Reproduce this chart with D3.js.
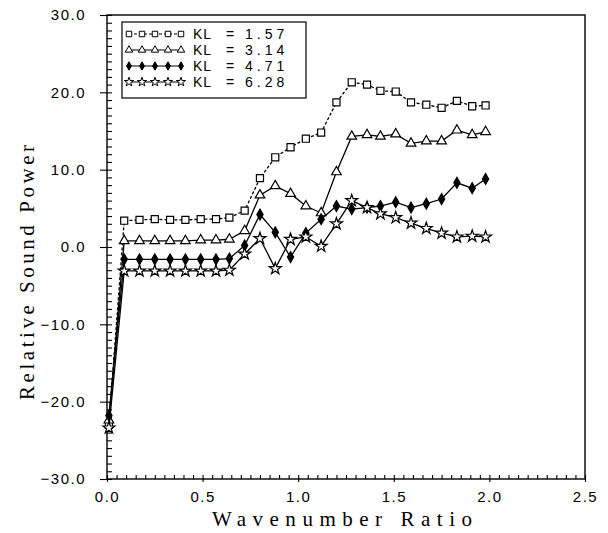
<!DOCTYPE html>
<html>
<head>
<meta charset="utf-8">
<script src="https://cdn.jsdelivr.net/npm/d3@7"></script>
<style>
  body { margin: 0; background: #fff; }
  text { fill: #000; }
</style>
</head>
<body>
<div id="vis"></div>
<script>
// wavenumber ratio (x) shared by all four curves
var ratio = [0.01, 0.09, 0.17, 0.25, 0.33, 0.41, 0.49, 0.57, 0.64, 0.72, 0.80, 0.88, 0.96,
             1.04, 1.12, 1.20, 1.28, 1.36, 1.43, 1.51, 1.59, 1.67, 1.75, 1.83, 1.91, 1.98];

var kl157 = [-23.0, 3.4, 3.5, 3.6, 3.5, 3.5, 3.6, 3.6, 3.8, 4.7, 8.9, 11.6, 12.9,
             14.0, 14.8, 18.7, 21.3, 21.0, 20.2, 20.1, 18.7, 18.4, 18.0, 18.9, 18.2, 18.3];
var kl314 = [-22.4, 0.8, 0.8, 0.8, 0.8, 0.8, 0.9, 0.9, 1.0, 2.1, 6.7, 7.9, 6.9,
             5.3, 4.4, 9.7, 14.3, 14.5, 14.3, 14.6, 13.4, 13.7, 13.7, 15.1, 14.5, 14.9];
var kl471 = [-21.8, -1.6, -1.6, -1.6, -1.6, -1.6, -1.6, -1.6, -1.5, 0.2, 4.2, 1.9, -1.3,
             1.8, 3.6, 5.3, 4.9, 5.1, 5.3, 5.8, 5.1, 5.6, 6.2, 8.3, 7.6, 8.8];
var kl628 = [-23.4, -3.1, -3.1, -3.1, -3.1, -3.1, -3.1, -3.1, -3.0, -0.9, 1.1, -2.8, 1.0,
             1.3, 0.1, 3.0, 6.0, 5.1, 4.3, 3.8, 3.1, 2.4, 1.8, 1.3, 1.4, 1.3];

var klValues = ['1.57', '3.14', '4.71', '6.28'];
var xTicks = [0, 0.5, 1.0, 1.5, 2.0, 2.5];
var yTicks = [-30, -20, -10, 0, 10, 20, 30];

var width = 608,
    height = 533,
    plotLeft = 107,
    plotRight = 585,
    plotTop = 15,
    plotBottom = 479;

var series = [
  { kl: klValues[0], values: kl157, symbol: d3.symbolSquare, size: 50, fill: '#fff', dash: '3,2' },
  { kl: klValues[1], values: kl314, symbol: d3.symbolTriangle, size: 40, fill: '#fff', dash: null },
  { kl: klValues[2], values: kl471, symbol: d3.symbolDiamond, size: 34, fill: '#000', dash: null },
  { kl: klValues[3], values: kl628, symbol: d3.symbolStar, size: 44, fill: '#fff', dash: null }
];

var xScale = d3.scaleLinear().domain([0, 2.5]).range([plotLeft, plotRight]);
var yScale = d3.scaleLinear().domain([-30, 30]).range([plotBottom, plotTop]);

var fmt = function(d) { return d3.format('.1f')(d); };

var svg = d3.select('#vis')
  .append('svg')
    .attr('width', width)
    .attr('height', height)
    .style('background', '#fff');

// frame
svg.append('rect')
  .attr('x', plotLeft)
  .attr('y', plotTop)
  .attr('width', plotRight - plotLeft)
  .attr('height', plotBottom - plotTop)
  .attr('fill', 'none')
  .attr('stroke', '#000')
  .attr('stroke-width', 1.4);

// minor ticks pointing inward
svg.append('g')
  .attr('transform', 'translate(0,' + plotBottom + ')')
  .call(d3.axisTop(xScale).ticks(50).tickSize(4).tickFormat(''))
  .call(function(g) { g.select('.domain').remove(); });

svg.append('g')
  .attr('transform', 'translate(' + plotLeft + ',0)')
  .call(d3.axisRight(yScale).ticks(60).tickSize(5).tickFormat(''))
  .call(function(g) { g.select('.domain').remove(); });

// major ticks + labels
var xAxis = svg.append('g')
  .attr('transform', 'translate(0,' + plotBottom + ')')
  .call(d3.axisBottom(xScale).tickValues(xTicks).tickSize(3).tickPadding(9).tickFormat(fmt));
xAxis.select('.domain').remove();
xAxis.selectAll('text')
  .style('font-family', 'Liberation Sans, Arial, sans-serif')
  .style('font-size', '15px')
  .style('letter-spacing', '1.5px');

var yAxis = svg.append('g')
  .attr('transform', 'translate(' + plotLeft + ',0)')
  .call(d3.axisLeft(yScale).tickValues(yTicks).tickSize(7).tickPadding(14).tickFormat(fmt));
yAxis.select('.domain').remove();
yAxis.selectAll('text')
  .style('font-family', 'Liberation Sans, Arial, sans-serif')
  .style('font-size', '15px')
  .style('letter-spacing', '1.5px');

svg.selectAll('.tick line').attr('stroke', '#000').attr('stroke-width', 1.1);

// axis titles
svg.append('text')
  .attr('x', 212)
  .attr('y', 526)
  .attr('textLength', 260)
  .attr('lengthAdjust', 'spacing')
  .style('font-family', "'Liberation Serif', 'Times New Roman', serif")
  .style('font-size', '21px')
  .text('Wavenumber Ratio');

svg.append('text')
  .attr('transform', 'translate(34,400) rotate(-90)')
  .attr('textLength', 255)
  .attr('lengthAdjust', 'spacing')
  .style('font-family', "'Liberation Serif', 'Times New Roman', serif")
  .style('font-size', '21px')
  .text('Relative Sound Power');

// curves
var line = d3.line()
  .x(function(d, i) { return xScale(ratio[i]); })
  .y(function(d) { return yScale(d); });

series.forEach(function(s) {
  svg.append('path')
    .datum(s.values)
    .attr('d', line)
    .attr('fill', 'none')
    .attr('stroke', '#000')
    .attr('stroke-width', 1.3)
    .attr('stroke-dasharray', s.dash);

  svg.selectAll(null)
    .data(s.values)
    .enter()
    .append('path')
      .attr('d', d3.symbol().type(s.symbol).size(s.size))
      .attr('transform', function(d, i) {
        return 'translate(' + xScale(ratio[i]) + ',' + yScale(d) + ')';
      })
      .attr('fill', s.fill)
      .attr('stroke', '#000')
      .attr('stroke-width', 1.2);
});

// legend
var legend = svg.append('g');
legend.append('rect')
  .attr('x', 122)
  .attr('y', 22)
  .attr('width', 184)
  .attr('height', 76)
  .attr('fill', '#fff')
  .attr('stroke', '#000')
  .attr('stroke-width', 1.2);

var sampleX = [129, 142, 155, 168, 181];

series.forEach(function(s, i) {
  var y = 34 + i * 16;
  legend.append('line')
    .attr('x1', sampleX[0])
    .attr('x2', sampleX[sampleX.length - 1])
    .attr('y1', y)
    .attr('y2', y)
    .attr('stroke', '#000')
    .attr('stroke-width', 1.2)
    .attr('stroke-dasharray', s.dash);

  legend.selectAll(null)
    .data(sampleX)
    .enter()
    .append('path')
      .attr('d', d3.symbol().type(s.symbol).size(s.size * 0.6))
      .attr('transform', function(d) { return 'translate(' + d + ',' + y + ')'; })
      .attr('fill', s.fill)
      .attr('stroke', '#000')
      .attr('stroke-width', 1);

  var t = legend.append('text')
    .attr('y', y + 5)
    .style('font-family', 'Liberation Sans, Arial, sans-serif')
    .style('font-size', '14px');
  t.append('tspan').attr('x', 193).style('letter-spacing', '1px').text('KL');
  t.append('tspan').attr('x', 226).text('=');
  t.append('tspan').attr('x', 245).style('letter-spacing', '4px').text(s.kl);
});
</script>
</body>
</html>
